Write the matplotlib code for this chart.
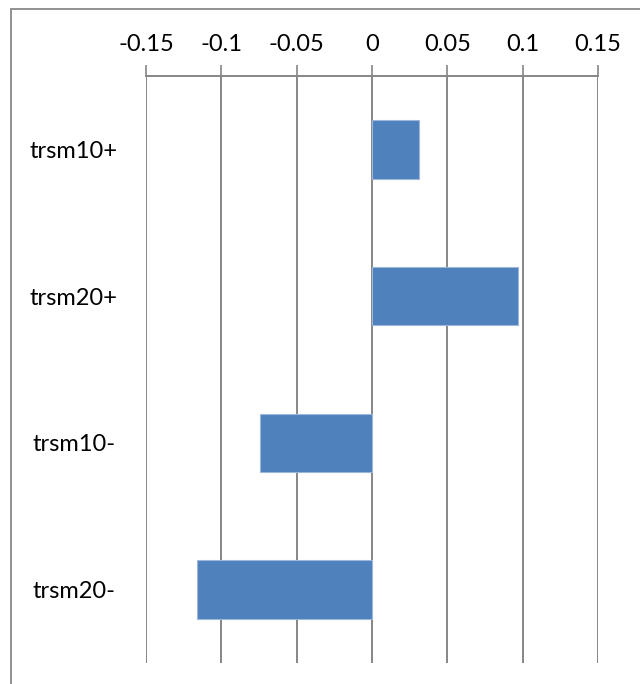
import matplotlib.pyplot as plt
from matplotlib.patches import Rectangle

plt.rcParams['font.family'] = ['Lato', 'DejaVu Sans']

categories = ["trsm10+", "trsm20+", "trsm10-", "trsm20-"]
values = [0.0314, 0.0971, -0.0742, -0.116]
x_ticks = [-0.15, -0.1, -0.05, 0, 0.05, 0.1, 0.15]
x_tick_labels = ["-0.15", "-0.1", "-0.05", "0", "0.05", "0.1", "0.15"]

grey = "#868686"

fig = plt.figure(figsize=(6.4, 6.84), dpi=100)
ax = fig.add_axes([146 / 640, 1 - 663 / 684, 452 / 640, 587 / 684])

ypos = list(range(len(categories)))
ax.barh(ypos, values, height=0.4, color="#4F81BD", edgecolor="#9DB7DB", linewidth=0.8, zorder=3)

ax.set_xlim(-0.15, 0.15)
ax.set_ylim(len(categories) - 0.5, -0.5)

ax.xaxis.tick_top()
ax.set_xticks(x_ticks)
ax.set_xticklabels(x_tick_labels, fontsize=17)
ax.tick_params(axis="x", direction="out", length=8, width=1.2, color=grey, pad=7)
ax.grid(axis="x", color=grey, linewidth=1.4, zorder=0)
ax.set_axisbelow(True)

ax.set_yticks(ypos)
ax.set_yticklabels(categories, fontsize=17, ha="center")
ax.tick_params(axis="y", length=0, pad=52)

for side in ["left", "right", "bottom"]:
    ax.spines[side].set_visible(False)
ax.spines["top"].set_color(grey)
ax.spines["top"].set_linewidth(1.4)

# chart area border (cut off at right and bottom in the original)
fig.patches.append(Rectangle((11 / 640, -0.1), 1.0, 1.1 - 9 / 684, transform=fig.transFigure,
                             fill=False, edgecolor="#898989", linewidth=1.3))

fig.savefig("out.png", dpi=100)
